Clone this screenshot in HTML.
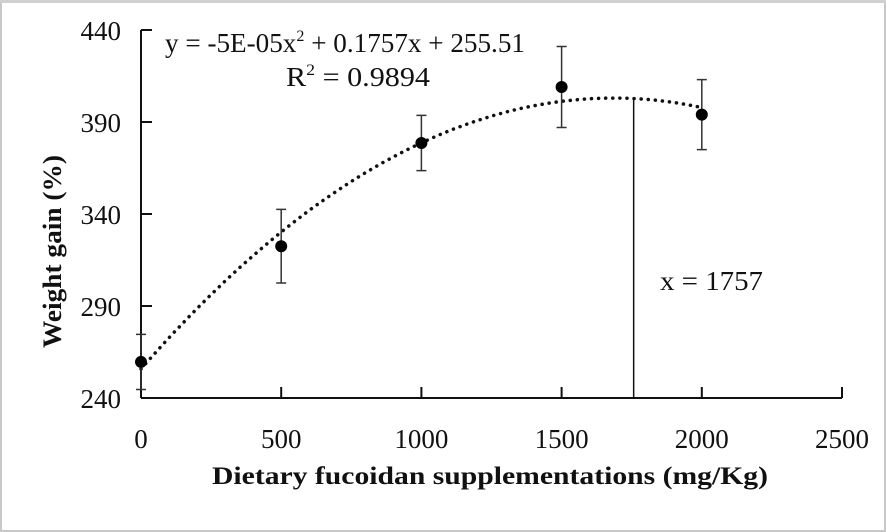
<!DOCTYPE html>
<html><head><meta charset="utf-8"><style>
html,body{margin:0;padding:0;background:#fff}
svg{display:block}
</style></head><body>
<svg width="886" height="532" xmlns="http://www.w3.org/2000/svg" font-family="'Liberation Serif', serif" fill="#111">
<rect x="1" y="1" width="884" height="530" fill="#fff" stroke="#c8c8c8" stroke-width="2"/>
<rect x="0" y="0" width="886" height="3" fill="#d0d0d0"/>
<g id="plot"></g>
<text x="165" y="52" font-size="27" font-family="Liberation Serif, serif" textLength="360" lengthAdjust="spacingAndGlyphs">y = -5E-05x<tspan font-size="16" dy="-11">2</tspan><tspan dy="11"> + 0.1757x + 255.51</tspan></text>
<text x="286" y="86" font-size="27" font-family="Liberation Serif, serif" textLength="144" lengthAdjust="spacingAndGlyphs">R<tspan font-size="16" dy="-11">2</tspan><tspan dy="11"> = 0.9894</tspan></text>
<text x="660" y="290" font-size="27" font-family="Liberation Serif, serif" textLength="103" lengthAdjust="spacingAndGlyphs">x = 1757</text>
<text x="212" y="484" font-size="25" font-weight="bold" font-family="Liberation Serif, serif" textLength="556" lengthAdjust="spacingAndGlyphs">Dietary fucoidan supplementations (mg/Kg)</text>
<text transform="translate(61,348) rotate(-90)" font-size="26" font-weight="bold" font-family="Liberation Serif, serif" textLength="193" lengthAdjust="spacingAndGlyphs">Weight gain (%)</text>
</svg>
<script>
const doses=[0,500,1000,1500,2000];
const gains=[259.6,322.5,378.6,409,394];
const errors=[15,20,15,22,19];
const xTicks=[0,500,1000,1500,2000,2500];
const yTicks=[240,290,340,390,440];
const optimumX=1757;
const NS="http://www.w3.org/2000/svg";
const g=document.getElementById('plot');
const X0=141,X1=842,Y0=398,Y1=30;
const sx=v=>X0+(v-0)/2500*(X1-X0);
const sy=v=>Y0-(v-240)/200*(Y0-Y1);
function mk(t,a){const e=document.createElementNS(NS,t);for(const k in a)e.setAttribute(k,a[k]);g.appendChild(e);return e;}
let e;
e=mk('line',{x1:X0,y1:Y0,x2:X1,y2:Y0,stroke:'#111','stroke-width':2});


e=mk('line',{x1:X0,y1:Y0,x2:X0,y2:Y1,stroke:'#111','stroke-width':2});


xTicks.forEach(v=>{
 e=mk('line',{x1:sx(v),y1:Y0,x2:sx(v),y2:Y0-11,stroke:'#111','stroke-width':2});
 
 
 e=mk('text',{x:sx(v),y:448,'font-size':27,'text-anchor':'middle','font-family':'Liberation Serif, serif'});e.textContent=v;
 
 
});
yTicks.forEach(v=>{
 e=mk('line',{x1:X0,y1:sy(v),x2:X0+11,y2:sy(v),stroke:'#111','stroke-width':2});
 
 
 e=mk('text',{x:121,y:sy(v)+10,'font-size':27,'text-anchor':'end','font-family':'Liberation Serif, serif'});e.textContent=v;
 
 
});
let S=[0,0,0,0,0],T=[0,0,0];
doses.forEach((x,i)=>{const y=gains[i];for(let k=0;k<5;k++)S[k]+=Math.pow(x,k);for(let k=0;k<3;k++)T[k]+=y*Math.pow(x,k);});
const M=[[S[0],S[1],S[2],T[0]],[S[1],S[2],S[3],T[1]],[S[2],S[3],S[4],T[2]]];
for(let i=0;i<3;i++){for(let j=i+1;j<3;j++){const f=M[j][i]/M[i][i];for(let k=i;k<4;k++)M[j][k]-=f*M[i][k];}}
const c=[0,0,0];for(let i=2;i>=0;i--){let s=M[i][3];for(let k=i+1;k<3;k++)s-=M[i][k]*c[k];c[i]=s/M[i][i];}
const fit=x=>c[0]+c[1]*x+c[2]*x*x;
let d='';for(let x=0;x<=doses[doses.length-1];x+=20)d+=(x?'L':'M')+sx(x).toFixed(1)+','+sy(fit(x)).toFixed(1);
e=mk('path',{d:d,fill:'none',stroke:'#111','stroke-width':3.5,'stroke-dasharray':'0.1 7','stroke-linecap':'round'});


e=mk('line',{x1:sx(optimumX),y1:Y0,x2:sx(optimumX),y2:sy(fit(optimumX)),stroke:'#111','stroke-width':1.5});


doses.forEach((x,i)=>{
 const px=sx(x),t=sy(gains[i]+errors[i]),b=sy(gains[i]-errors[i]);
 e=mk('path',{d:`M${px},${t}V${b}M${px-5},${t}H${px+5}M${px-5},${b}H${px+5}`,stroke:'#333','stroke-width':1.5,fill:'none'});
 
 
 e=mk('circle',{cx:px,cy:sy(gains[i]),r:6,fill:'#000'});
 
 
});
</script>
</body></html>
